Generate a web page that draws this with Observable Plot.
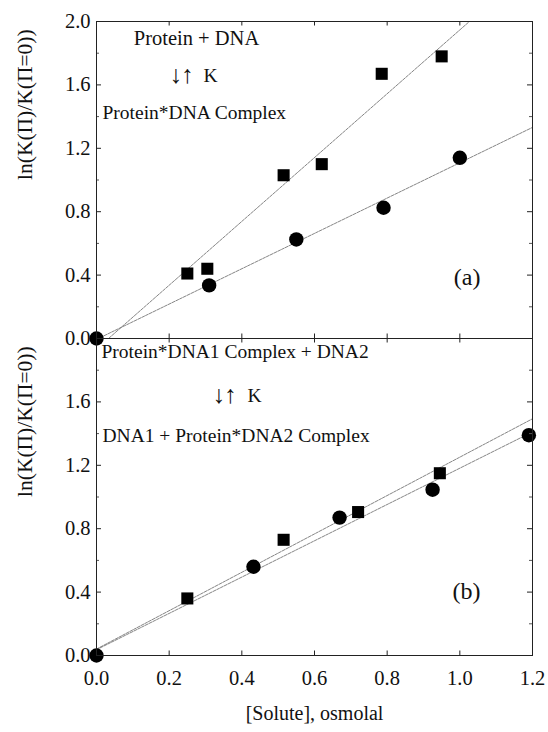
<!DOCTYPE html>
<html>
<head>
<meta charset="utf-8">
<script src="https://cdn.jsdelivr.net/npm/d3@7"></script>
<script src="https://cdn.jsdelivr.net/npm/@observablehq/plot@0.6"></script>
<style>
  html, body { margin: 0; padding: 0; background: #fff; }
  #chart { width: 548px; height: 732px; }
  #chart svg text { font-family: 'Liberation Serif', 'DejaVu Serif', serif; }
  #chart svg .arrows text { letter-spacing: -1px; }
</style>
</head>
<body>
<div id="chart"></div>
<script>
// ---- data ----
const panels = ["a", "b"];
const aSquareX = [0, 0.25, 0.305, 0.515, 0.62, 0.785, 0.95];
const aSquareY = [0, 0.41, 0.44, 1.03, 1.10, 1.67, 1.78];
const aCircleX = [0, 0.31, 0.55, 0.79, 1.0];
const aCircleY = [0, 0.335, 0.625, 0.825, 1.14];
const bSquareX = [0, 0.25, 0.515, 0.72, 0.945];
const bSquareY = [0, 0.36, 0.73, 0.905, 1.15];
const bCircleX = [0, 0.432, 0.669, 0.925, 1.19];
const bCircleY = [0, 0.56, 0.87, 1.046, 1.39];
const xTicks = [0, 0.2, 0.4, 0.6, 0.8, 1.0, 1.2];
const yTicksA = [0, 0.4, 0.8, 1.2, 1.6, 2.0];
const yTicksB = [0, 0.4, 0.8, 1.2, 1.6];
const yMinor = [0.2, 0.6, 1.0, 1.4, 1.8];
const yTitle = "ln(K(Π)/K(Π=0))";
const xTitle = "[Solute], osmolal";
const arrows = "↓↑";
const annA = ["Protein + DNA", "K", "Protein*DNA Complex", "(a)"];
const annB = ["Protein*DNA1 Complex + DNA2", "K", "DNA1 + Protein*DNA2 Complex", "(b)"];

// ---- build tables ----
const series = [
  {panel: "a", shape: "square", xs: aSquareX, ys: aSquareY},
  {panel: "a", shape: "circle", xs: aCircleX, ys: aCircleY},
  {panel: "b", shape: "square", xs: bSquareX, ys: bSquareY},
  {panel: "b", shape: "circle", xs: bCircleX, ys: bCircleY}
];
const points = series.flatMap(s => s.xs.map((x, i) => ({panel: s.panel, shape: s.shape, x, y: s.ys[i]})));
const xDomain = [0, 1.2];
const fits = series.flatMap(s => {
  const mx = d3.mean(s.xs), my = d3.mean(s.ys);
  const sxy = d3.sum(s.xs, (x, i) => (x - mx) * (s.ys[i] - my));
  const sxx = d3.sum(s.xs, x => (x - mx) ** 2);
  const b = sxy / sxx, a = my - b * mx;
  return xDomain.map(x => ({panel: s.panel, key: s.panel + s.shape, x, y: a + b * x}));
});
const yLabRows = [
  ...yTicksA.map(v => ({panel: "a", v})),
  ...yTicksB.map(v => ({panel: "b", v}))
];

const W = 548, H = 732, mL = 96, mR = 16, mT = 20, mB = 77;
const fw = W - mL - mR;
const fh = (H - mT - mB) / 2;
const font = "Liberation Serif";
const fmt = d3.format(".1f");

const ann = (panel, text, anchor, dx, dy, textAnchor, extra = {}) =>
  Plot.text([text], {fy: () => panel, text: d => d, frameAnchor: anchor, dx, dy,
    textAnchor, lineAnchor: "middle", fontSize: 19.5, fill: "#111", fontFamily: font, ...extra});

const chart = Plot.plot({
  width: W, height: H,
  marginLeft: mL, marginRight: mR, marginTop: mT, marginBottom: mB,
  style: {fontFamily: font, fontSize: "19px", background: "#fff", color: "#111"},
  x: {domain: xDomain, axis: null},
  y: {domain: [0, 2], axis: null},
  fy: {domain: panels, padding: 0, axis: null},
  marks: [
    // regression lines
    Plot.line(fits, {x: "x", y: "y", z: "key", fy: "panel", stroke: "#777",
      strokeWidth: 0.9, strokeDasharray: "3,1.2", clip: true}),
    // points (the shared origin point shows as a circle)
    Plot.dot(points.filter(d => d.shape === "square" && d.x > 0), {x: "x", y: "y", fy: "panel",
      symbol: "square", r: 6.8, fill: "#000"}),
    Plot.dot(points.filter(d => d.shape === "circle"), {x: "x", y: "y", fy: "panel",
      symbol: "circle", r: 7.2, fill: "#000"}),
    // inward ticks
    Plot.tickY(yTicksA, {y: d => d, insetRight: fw - 5, stroke: "#222"}),
    Plot.tickY(yTicksA, {y: d => d, insetLeft: fw - 5, stroke: "#222"}),
    Plot.tickY(yMinor, {y: d => d, insetRight: fw - 3, stroke: "#555"}),
    Plot.tickY(yMinor, {y: d => d, insetLeft: fw - 3, stroke: "#555"}),
    Plot.tickX(xTicks, {x: d => d, insetTop: fh - 5, stroke: "#222"}),
    Plot.tickX(xTicks, {x: d => d, insetBottom: fh - 5, stroke: "#222"}),
    Plot.frame({stroke: "#222", strokeWidth: 1}),
    // y tick labels
    Plot.text(yLabRows, {y: "v", fy: "panel", text: d => fmt(d.v), frameAnchor: "left",
      dx: -6, textAnchor: "end", fontSize: 20.5, fill: "#111", fontFamily: font}),
    // x tick labels
    Plot.text(xTicks, {x: d => d, fy: () => "b", text: d => fmt(d), frameAnchor: "bottom",
      dy: 23, lineAnchor: "middle", fontSize: 20.5, fill: "#111", fontFamily: font}),
    // axis titles
    Plot.text(panels, {fy: d => d, text: () => yTitle, frameAnchor: "left", dx: -71,
      rotate: -90, lineAnchor: "middle", fontSize: 21.5, fill: "#111", fontFamily: font}),
    Plot.text([xTitle], {fy: () => "b", text: d => d, frameAnchor: "bottom", dy: 58,
      lineAnchor: "middle", fontSize: 20, fill: "#111", fontFamily: font}),
    // annotations
    ann("a", annA[0], "top-left", 100, 17, "middle", {fontSize: 20.5}),
    ann("a", arrows, "top-left", 73, 53, "start", {fontSize: 25, className: "arrows"}),
    ann("a", annA[1], "top-left", 107, 54, "start"),
    ann("a", annA[2], "top-left", 6, 91, "start"),
    ann("a", annA[3], "bottom-right", -52, -61, "end", {fontSize: 24}),
    ann("b", annB[0], "top-left", 5, 13.5, "start"),
    ann("b", arrows, "top-left", 116, 56.5, "start", {fontSize: 25, className: "arrows"}),
    ann("b", annB[1], "top-left", 151, 57.5, "start"),
    ann("b", annB[2], "top-left", 6, 97.5, "start"),
    ann("b", annB[3], "bottom-right", -52, -64, "end", {fontSize: 24})
  ]
});
document.getElementById("chart").appendChild(chart);
</script>
</body>
</html>
